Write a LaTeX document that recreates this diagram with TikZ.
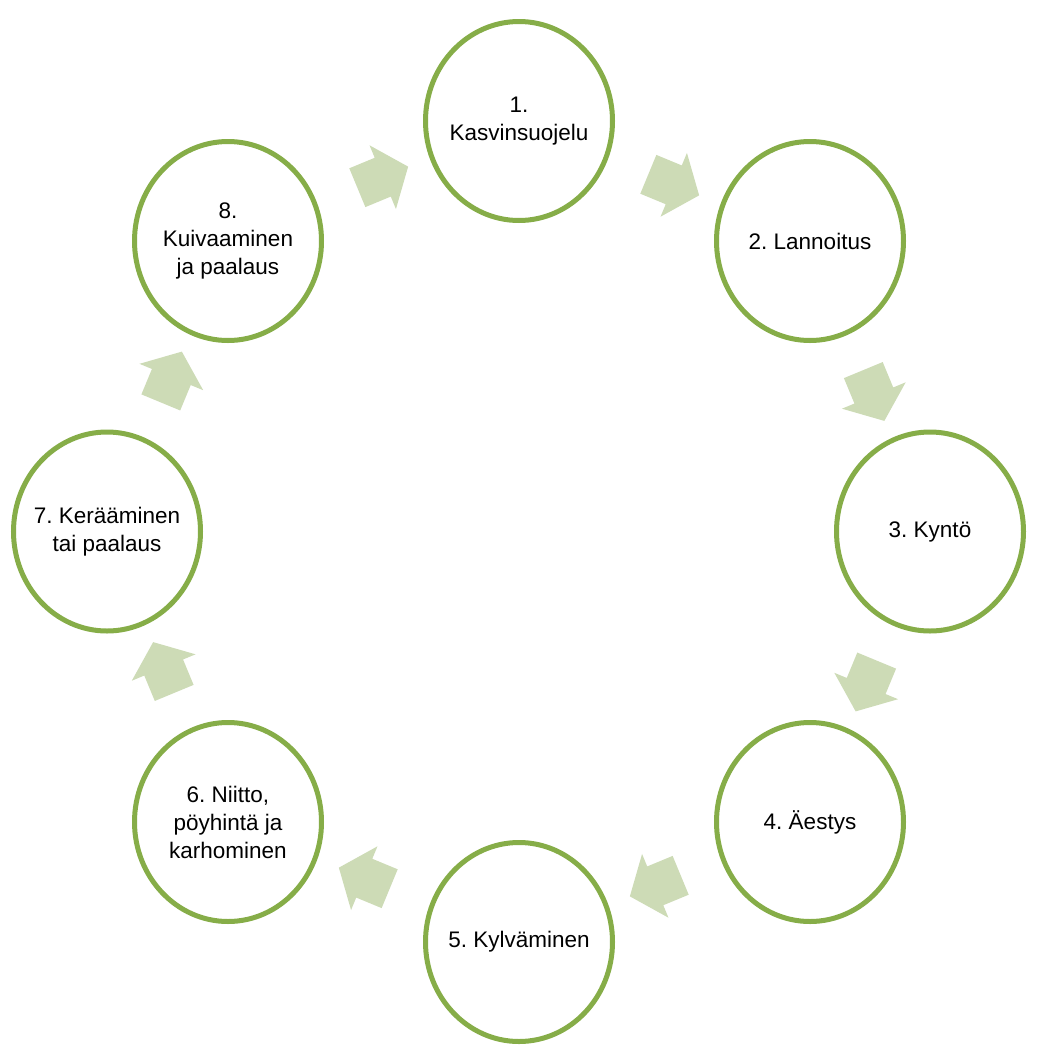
\documentclass[tikz,border=0pt]{standalone}
\usepackage{fontspec}
\setmainfont{Liberation Sans}
\usetikzlibrary{shapes.geometric,calc}
\definecolor{ringgreen}{RGB}{134,173,72}
\definecolor{arrowgreen}{RGB}{205,219,182}
\tikzset{
  stage/.style={ellipse, draw=ringgreen, line width=5pt, fill=white,
    minimum width=187pt, minimum height=199pt, inner sep=0pt},
  lbl/.style={align=center, inner sep=0pt, text=black,
    font=\fontsize{22.5}{28}\selectfont},
  blockarrow/.style={fill=arrowgreen}
}
\frenchspacing
\begin{document}
\frenchspacing
\begin{tikzpicture}[x=1pt,y=-1pt]
\useasboundingbox (0,0) rectangle (1042,1050);
\node[stage] (c1) at (519,121) {};
\node[stage] (c2) at (810,241) {};
\node[stage] (c3) at (930,531.5) {};
\node[stage] (c4) at (810,822) {};
\node[stage] (c5) at (519,942) {};
\node[stage] (c6) at (228,822) {};
\node[stage] (c7) at (107,531.5) {};
\node[stage] (c8) at (228,241) {};
\node[lbl] (t1) at (c1) {1.\\Kasvinsuojelu};
\node[lbl] (t2) at (c2) {2. Lannoitus};
\node[lbl] (t3) at (c3) {3. Kyntö};
\node[lbl] (t4) at (c4) {4. Äestys};
\node[lbl] (t5) at (c5) {5. Kylväminen};
\node[lbl] (t6) at (c6) {6. Niitto,\\pöyhintä ja\\karhominen};
\node[lbl] (t7) at (c7) {7. Kerääminen\\tai paalaus};
\node[lbl] (t8) at (c8) {8.\\Kuivaaminen\\ja paalaus};
\foreach \a/\b/\ang in {1/2/-22.5, 2/3/-67.5, 3/4/-112.5, 4/5/-157.5,
                        5/6/157.5, 6/7/112.5, 7/8/67.5, 8/1/22.5}{
  \coordinate (m\a\b) at ($(c\a)!0.5!(c\b)$);
  \fill[blockarrow, shift={(m\a\b)}, rotate=\ang]
    (-17.5,-21) -- (10,-21) -- (10,-34.5) -- (37.5,0) -- (10,34.5)
    -- (10,21) -- (-17.5,21) -- cycle;
}
\end{tikzpicture}
\end{document}
